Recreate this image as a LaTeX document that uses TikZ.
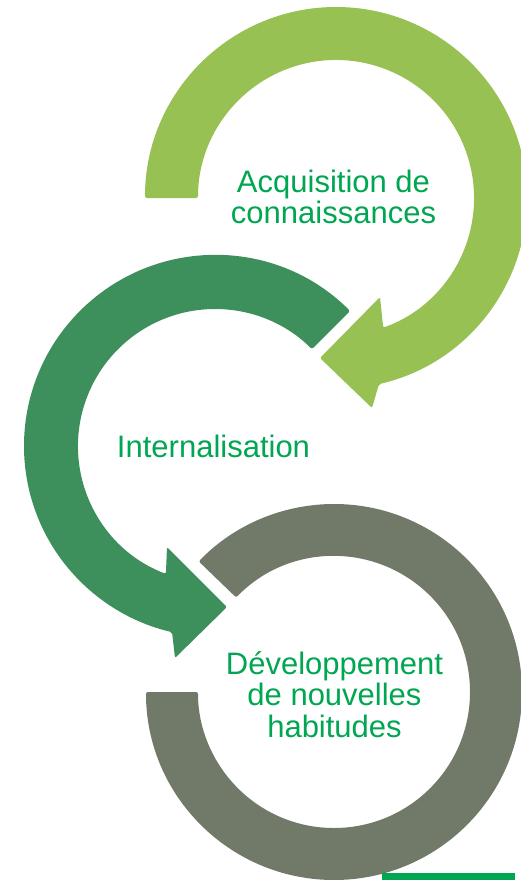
\documentclass[tikz,border=0pt]{standalone}
\usepackage{fontspec}
\setmainfont{Liberation Sans}
\usetikzlibrary{calc}
\definecolor{lgreen}{HTML}{97C152}
\definecolor{dgreen}{HTML}{3D8F5B}
\definecolor{ringgray}{HTML}{717968}
\definecolor{txtgreen}{HTML}{00A651}
\begin{document}
\begin{tikzpicture}[x=1pt,y=-1pt,
  lbl/.style={text=txtgreen, font=\fontsize{31}{31.5}\selectfont, anchor=base, inner sep=0pt},
  ringshape/.style={rounded corners=2pt}]
\useasboundingbox (0,0) rectangle (521,880);
\clip (0,0) rectangle (521,880);
\coordinate (C1) at (336,198);
\coordinate (C2) at (215,446);
\coordinate (C3) at (334,692);
% bottom gray ring
\fill[ringgray, ringshape] ($(C3)+(180:188)$) arc[start angle=180, end angle=-136, radius=188]
  -- ($(C3)+(-136:136)$) arc[start angle=-136, end angle=180, radius=136] -- cycle;
% middle dark green arrow
\fill[dgreen, ringshape] ($(C2)+(-45:191)$) arc[start angle=-45, end angle=-257, radius=191]
  -- (175,658) -- (227,607) -- (167,547)
  -- ($(C2)+(-249:137)$) arc[start angle=-249, end angle=-45, radius=137] -- cycle;
% top light green arrow
\fill[lgreen, ringshape] ($(C1)+(180:191)$) arc[start angle=180, end angle=437, radius=191]
  -- (372,408) -- (320,358) -- (380,297)
  -- ($(C1)+(430:138)$) arc[start angle=430, end angle=180, radius=138] -- cycle;
% labels
\node[lbl] (acq) at (333.5,192) {\begin{tabular}[t]{@{}c@{}}Acquisition de\\connaissances\end{tabular}};
\node[lbl] (int) at (213.5,457) {Internalisation};
\node[lbl] (dev) at (334.5,674) {\begin{tabular}[t]{@{}c@{}}Développement\\de nouvelles\\habitudes\end{tabular}};
% bottom bar
\fill[txtgreen] (382,873) rectangle (515,880);
\end{tikzpicture}
\end{document}
